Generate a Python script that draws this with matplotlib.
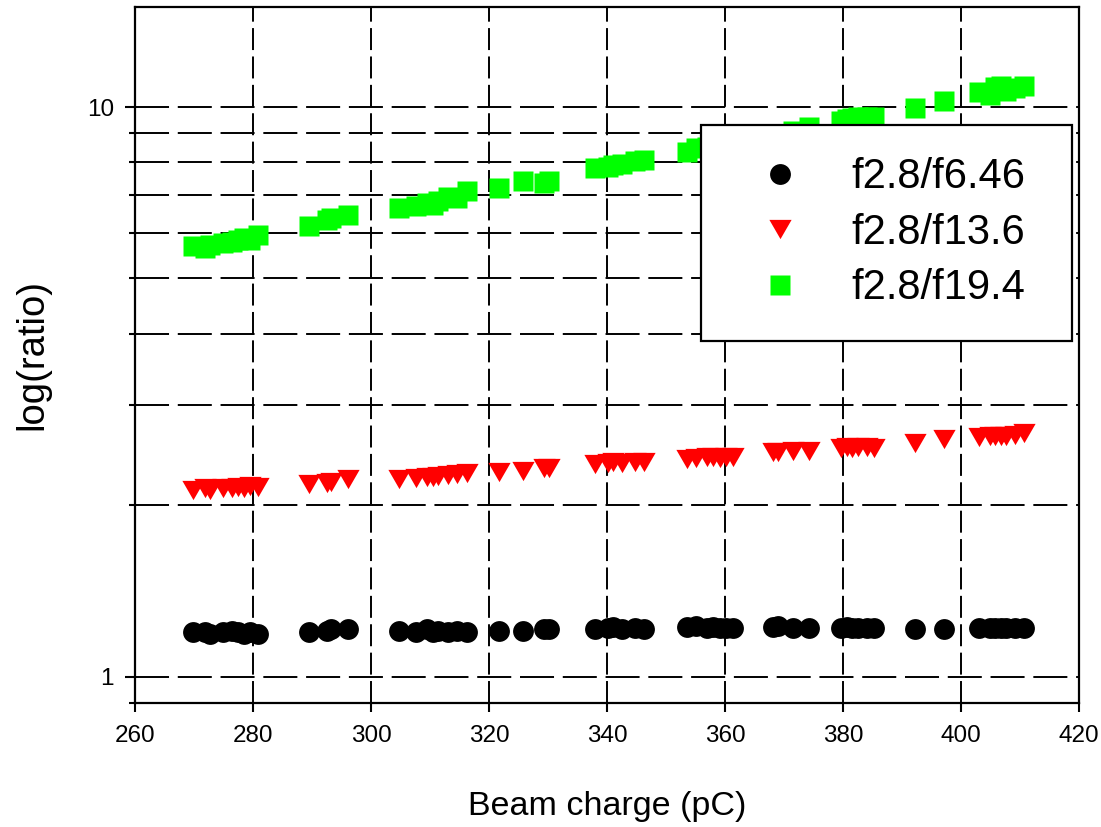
import numpy as np
import matplotlib
matplotlib.use('Agg')
import matplotlib.pyplot as plt
from matplotlib.path import Path
from matplotlib.ticker import NullFormatter, FixedLocator

plt.rcParams['font.family'] = ['Liberation Sans', 'DejaVu Sans']

# ---------------- data ----------------
beam_charge = [269.8, 271.9, 272.7, 274.9, 276.4, 277.5, 278.4, 279.5, 280.9,
               289.5, 292.5, 293.3, 296.1,
               304.7, 307.7, 309.5, 310.5, 311.4, 313.1, 314.5, 316.2,
               321.7, 325.7, 329.4, 330.1,
               338.0, 340.2, 341.1, 342.5, 344.7, 346.3,
               353.5, 355.0, 357.0, 358.0, 359.2, 360.2, 361.4,
               368.1, 369.0, 371.5, 374.2,
               379.6, 380.6, 381.5, 382.6, 384.0, 385.3,
               392.2, 397.2,
               403.1, 404.9, 405.8, 406.8, 407.7, 409.2, 410.6]

ratio_f646 = [1.20, 1.20, 1.19, 1.20, 1.205, 1.20, 1.19, 1.20, 1.19,
              1.20, 1.205, 1.21, 1.21,
              1.205, 1.20, 1.21, 1.20, 1.205, 1.20, 1.205, 1.20,
              1.205, 1.205, 1.21, 1.21,
              1.21, 1.215, 1.22, 1.21, 1.215, 1.21,
              1.22, 1.225, 1.215, 1.22, 1.215, 1.215, 1.215,
              1.22, 1.225, 1.215, 1.215,
              1.215, 1.22, 1.215, 1.215, 1.215, 1.215,
              1.21, 1.21,
              1.215, 1.215, 1.215, 1.215, 1.215, 1.215, 1.215]

ratio_f136 = [2.13, 2.14, 2.13, 2.14, 2.14, 2.15, 2.14, 2.16, 2.15,
              2.175, 2.19, 2.20, 2.22,
              2.22, 2.23, 2.24, 2.24, 2.25, 2.26, 2.27, 2.28,
              2.285, 2.30, 2.32, 2.32,
              2.36, 2.37, 2.38, 2.37, 2.38, 2.38,
              2.415, 2.42, 2.43, 2.43, 2.42, 2.43, 2.43,
              2.48, 2.48, 2.49, 2.49,
              2.52, 2.53, 2.52, 2.53, 2.53, 2.52,
              2.57, 2.61,
              2.63, 2.65, 2.65, 2.65, 2.65, 2.66, 2.675]

ratio_f194 = [5.70, 5.66, 5.72, 5.78, 5.80, 5.85, 5.90, 5.85, 5.95,
              6.18, 6.34, 6.38, 6.45,
              6.66, 6.70, 6.78, 6.72, 6.85, 6.95, 6.93, 7.13,
              7.22, 7.40, 7.35, 7.40,
              7.82, 7.85, 7.92, 7.95, 8.05, 8.08,
              8.35, 8.47, 8.50, 8.55, 8.60, 8.62, 8.65,
              8.85, 8.95, 9.07, 9.22,
              9.45, 9.52, 9.58, 9.60, 9.60, 9.62,
              9.98, 10.26,
              10.62, 10.50, 10.85, 10.87, 10.65, 10.80, 10.88]

series_labels = ['f2.8/f6.46', 'f2.8/f13.6', 'f2.8/f19.4']
x_ticks = [260, 280, 300, 320, 340, 360, 380, 400, 420]
y_major_ticks = [1, 10]
y_major_labels = ['1', '10']
y_minor_ticks = [0.9, 2, 3, 4, 5, 6, 7, 8, 9]

# ---------------- figure ----------------
W, H = 1101, 827
fig = plt.figure(figsize=(W / 100, H / 100), dpi=100)
ax_l, ax_r, ax_t, ax_b = 135, 1079, 6.7, 702.7
ax = fig.add_axes([ax_l / W, 1 - ax_b / H, (ax_r - ax_l) / W, (ax_b - ax_t) / H])

ax.set_yscale('log')
ax.set_xlim(260, 420)
ax.set_ylim(0.9, 15)

tri = Path([(-0.5, 0.433), (0.5, 0.433), (0.0, -0.433), (-0.5, 0.433)],
           [Path.MOVETO, Path.LINETO, Path.LINETO, Path.CLOSEPOLY])

ax.plot(beam_charge, ratio_f646, linestyle='none', marker='o', ms=15,
        mfc='#000000', mec='none', label=series_labels[0], zorder=3)
ax.plot(beam_charge, ratio_f136, linestyle='none', marker=tri, ms=16,
        mfc='#ff0000', mec='none', label=series_labels[1], zorder=3)
ax.plot(beam_charge, ratio_f194, linestyle='none', marker='s', ms=14.5,
        mfc='#00ff00', mec='none', label=series_labels[2], zorder=3)

# ticks
ax.set_xticks(x_ticks)
ax.set_xticklabels([str(t) for t in x_ticks])
ax.yaxis.set_major_locator(FixedLocator(y_major_ticks))
ax.set_yticklabels(y_major_labels)
ax.yaxis.set_minor_locator(FixedLocator(y_minor_ticks))
ax.yaxis.set_minor_formatter(NullFormatter())
ax.xaxis.set_minor_locator(FixedLocator([]))

ax.tick_params(axis='x', which='major', direction='out', length=6.5, width=1.5,
               labelsize=17.5, pad=9.5, top=False, colors='black')
ax.tick_params(axis='y', which='major', direction='out', length=7.2, width=1.5,
               labelsize=17.5, pad=8, right=False)
ax.tick_params(axis='y', which='minor', direction='out', length=4.3, width=1.5,
               right=False)

for sp in ax.spines.values():
    sp.set_linewidth(1.6)
    sp.set_color('black')
    sp.set_zorder(4)

# grid
gl_w = 1.4
ax.set_axisbelow(True)
ax.xaxis.grid(True, which='major', color='black', linewidth=gl_w,
              linestyle=(0, (11.3, 3.3)))
ax.yaxis.grid(True, which='both', color='black', linewidth=gl_w,
              linestyle=(0, (17.5, 4.5)))

ax.set_xlabel('Beam charge (pC)', fontsize=24.5, labelpad=32)
ax.set_ylabel('log(ratio)', fontsize=27.5, labelpad=26)

# legend
lx0, lx1, ly0, ly1 = 701, 1072, 125, 338.3
leg = ax.legend(loc='upper left',
                bbox_to_anchor=(lx0 / W, 1 - ly1 / H, (lx1 - lx0) / W, (ly1 - ly0) / H),
                bbox_transform=fig.transFigure, mode='expand',
                borderaxespad=0, borderpad=0.78, handlelength=2.25,
                handletextpad=0.58, labelspacing=0.37, numpoints=1,
                fontsize=30, fancybox=False, framealpha=1, edgecolor='black')
leg.get_frame().set_linewidth(1.6)
leg.set_zorder(10)

fig.savefig('out.png', dpi=100)
